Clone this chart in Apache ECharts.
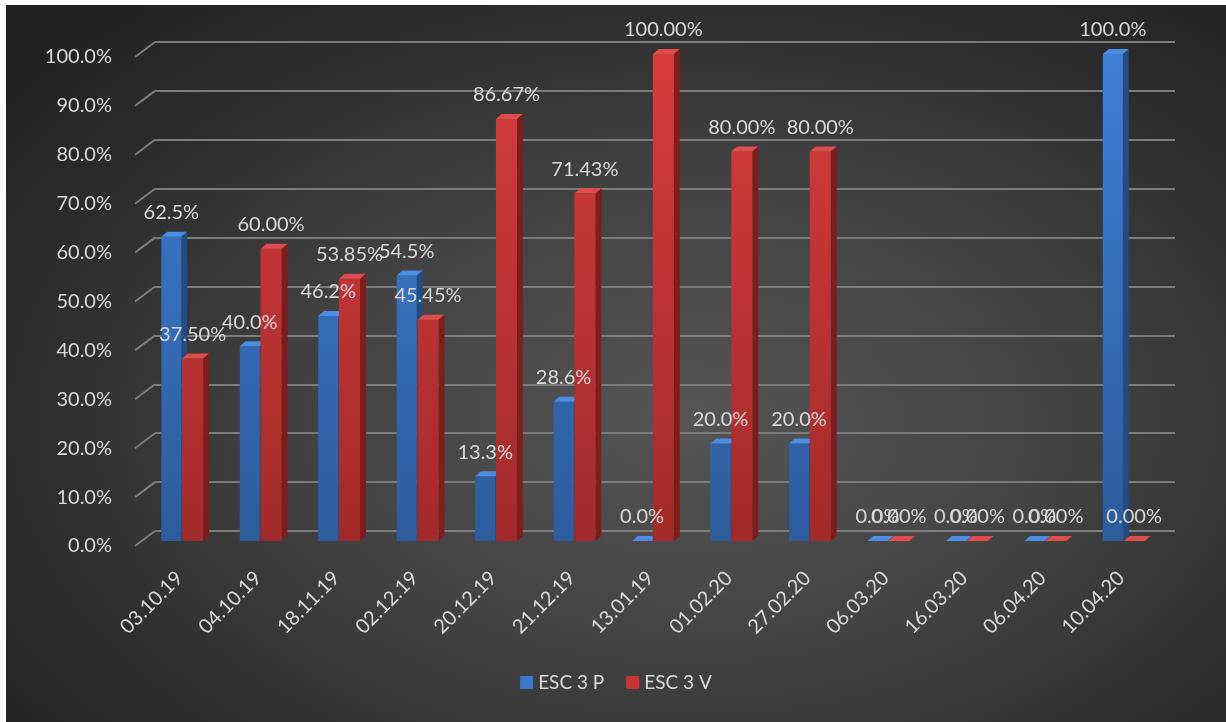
<!DOCTYPE html>
<html>
<head>
<meta charset="utf-8">
<script src="https://cdn.jsdelivr.net/npm/echarts@6/dist/echarts.min.js"></script>
<style>
  html, body { margin: 0; padding: 0; background: #ffffff; width: 1226px; height: 722px; overflow: hidden; }
  #chart { position: absolute; left: 6px; top: 5px; width: 1220px; height: 717px;
    background: radial-gradient(ellipse 75% 80% at 56% 58%, #555555 0%, #434343 40%, #2c2c2c 75%, #202020 100%); }
</style>
</head>
<body>
<div id="chart"></div>
<script>
const categories = ['03.10.19','04.10.19','18.11.19','02.12.19','20.12.19','21.12.19','13.01.19','01.02.20','27.02.20','06.03.20','16.03.20','06.04.20','10.04.20'];
const seriesP = [62.5, 40.0, 46.2, 54.5, 13.3, 28.6, 0.0, 20.0, 20.0, 0.0, 0.0, 0.0, 100.0];
const seriesV = [37.50, 60.00, 53.85, 45.45, 86.67, 71.43, 100.00, 80.00, 80.00, 0.00, 0.00, 0.00, 0.00];
const yTicks = [0, 10, 20, 30, 40, 50, 60, 70, 80, 90, 100];
const seriesNames = ['ESC 3 P', 'ESC 3 V'];

const FONT = 'Lato';
const TXT = '#d9d9d9';

const palette = [
  { topFace: '#4b8ee4', frontTop: '#3d7fd6', frontBottom: '#2c5c9c', side: '#234b84', legend: '#3a78cc', decimals: 1 },
  { topFace: '#e04c4c', frontTop: '#d63c3c', frontBottom: '#a32a2a', side: '#7f1d1d', legend: '#c83232', decimals: 2 }
];

function geom(s, api) {
  const idx = api.value(0);
  const val = api.value(1);
  const top = api.coord([idx, val]);
  const base = api.coord([idx, 0]);
  const full = api.coord([idx, 100]);
  const band = api.size([1, 0])[0];
  return {
    val: val,
    x0: top[0] + band * (s === 0 ? -0.305 : -0.04),
    w: band * (s === 0 ? 0.255 : 0.268),
    d: band * 0.075,
    dy: 5,
    yT: top[1], yB: base[1], yF: full[1]
  };
}

function renderBar(s) {
  const pal = palette[s];
  return function (params, api) {
    const g = geom(s, api);
    const { x0, w, d, dy, yT, yB } = g;
    const grad = {
      type: 'linear', x: 0, y: g.yF, x2: 0, y2: yB, global: true,
      colorStops: [{ offset: 0, color: pal.frontTop }, { offset: 1, color: pal.frontBottom }]
    };
    const children = [];
    if (yB - yT > 0.5) {
      children.push({ type: 'polygon', shape: { points: [[x0 + w, yT], [x0 + w + d, yT - dy], [x0 + w + d, yB - dy], [x0 + w, yB]] }, style: { fill: pal.side } });
      children.push({ type: 'rect', shape: { x: x0, y: yT, width: w, height: yB - yT }, style: { fill: grad } });
    }
    children.push({ type: 'polygon', shape: { points: [[x0, yT], [x0 + w, yT], [x0 + w + d, yT - dy], [x0 + d, yT - dy]] }, style: { fill: pal.topFace } });
    return { type: 'group', children: children };
  };
}

function renderLabel(s) {
  const pal = palette[s];
  return function (params, api) {
    const g = geom(s, api);
    return {
      type: 'text',
      style: {
        text: g.val.toFixed(pal.decimals) + '%',
        x: g.x0 + g.w / 2, y: g.yT - 24,
        textAlign: 'center', textVerticalAlign: 'middle',
        fill: TXT, font: '20px ' + FONT
      }
    };
  };
}

const chart = echarts.init(document.getElementById('chart'));
chart.setOption({
  animation: false,
  textStyle: { fontFamily: FONT },
  grid: [
    { left: 140, right: 60, top: 49, bottom: 181 },
    { left: 149, right: 51, top: 37, bottom: 191 },
    { left: 129, right: 71, top: 52, bottom: 176 }
  ],
  xAxis: [
    {
      type: 'category', gridIndex: 0, data: categories,
      axisLine: { show: false }, axisTick: { show: false },
      axisLabel: { rotate: 45, color: TXT, fontSize: 20, fontFamily: FONT, margin: 28, padding: [0, 8, 0, 0], interval: 0 }
    },
    { type: 'value', gridIndex: 1, min: 0, max: 1, show: false },
    { type: 'value', gridIndex: 2, min: 0, max: 1, show: false }
  ],
  yAxis: [
    { type: 'value', gridIndex: 0, min: 0, max: 100, interval: 10, show: false },
    {
      type: 'value', gridIndex: 1, min: 0, max: 100, interval: 10,
      axisLine: { show: false }, axisTick: { show: false }, axisLabel: { show: false },
      splitLine: { show: true, lineStyle: { color: '#7c7c7c', width: 2 } }
    },
    {
      type: 'value', gridIndex: 2, min: 0, max: 100, interval: 10,
      axisLine: { show: false }, axisTick: { show: false }, splitLine: { show: false },
      axisLabel: { color: TXT, fontSize: 20, fontFamily: FONT, margin: 23, formatter: v => v.toFixed(1) + '%' }
    }
  ],
  legend: {
    bottom: 25, left: 'center', itemWidth: 13, itemHeight: 13, itemGap: 22,
    icon: 'rect',
    textStyle: { color: TXT, fontSize: 19, fontFamily: FONT },
    data: [
      { name: seriesNames[0], itemStyle: { color: palette[0].legend } },
      { name: seriesNames[1], itemStyle: { color: palette[1].legend } }
    ]
  },
  series: [
    {
      type: 'custom', name: 'wallTicks', xAxisIndex: 1, yAxisIndex: 1, clip: false, silent: true,
      data: yTicks.map(v => [0, v]),
      renderItem: function (params, api) {
        const p = api.coord([0, api.value(1)]);
        return { type: 'line', shape: { x1: p[0] - 20, y1: p[1] + 15, x2: p[0], y2: p[1] }, style: { stroke: '#7c7c7c', lineWidth: 2 } };
      }
    },
    {
      type: 'custom', name: seriesNames[0], xAxisIndex: 0, yAxisIndex: 0, clip: false, z: 2,
      itemStyle: { color: palette[0].legend },
      encode: { x: 0, y: 1 },
      data: seriesP.map((v, i) => [i, v]),
      renderItem: renderBar(0)
    },
    {
      type: 'custom', name: seriesNames[1], xAxisIndex: 0, yAxisIndex: 0, clip: false, z: 3,
      itemStyle: { color: palette[1].legend },
      encode: { x: 0, y: 1 },
      data: seriesV.map((v, i) => [i, v]),
      renderItem: renderBar(1)
    },
    {
      type: 'custom', name: seriesNames[0] + ' labels', xAxisIndex: 0, yAxisIndex: 0, clip: false, z: 10, silent: true,
      encode: { x: 0, y: 1 },
      data: seriesP.map((v, i) => [i, v]),
      renderItem: renderLabel(0)
    },
    {
      type: 'custom', name: seriesNames[1] + ' labels', xAxisIndex: 0, yAxisIndex: 0, clip: false, z: 11, silent: true,
      encode: { x: 0, y: 1 },
      data: seriesV.map((v, i) => [i, v]),
      renderItem: renderLabel(1)
    }
  ]
});
</script>
</body>
</html>
